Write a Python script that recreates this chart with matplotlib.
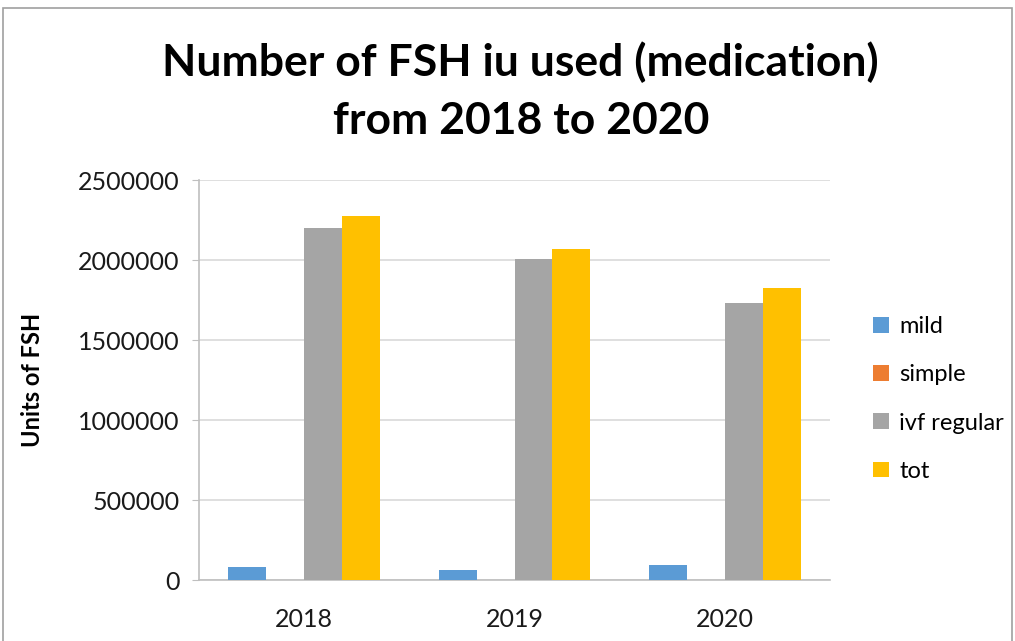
import matplotlib
matplotlib.use("Agg")
import matplotlib.pyplot as plt
from matplotlib.patches import Rectangle
import numpy as np

years = ["2018", "2019", "2020"]
series_names = ["mild", "simple", "ivf regular", "tot"]
mild = [80000, 61000, 94000]
simple = [0, 0, 0]
ivf_regular = [2198000, 2005000, 1729000]
tot = [2278000, 2066000, 1823000]
yticks = [0, 500000, 1000000, 1500000, 2000000, 2500000]
colors = ["#5B9BD5", "#ED7D31", "#A5A5A5", "#FFC000"]

plt.rcParams['font.family'] = ['Lato', 'DejaVu Sans']

fig = plt.figure(figsize=(10.15, 6.41), dpi=100)
ax = fig.add_axes([199/1015, 1-580/641, (830-199)/1015, 400/641])

x = np.arange(len(years))
w = 0.18
data = [mild, simple, ivf_regular, tot]
for i, (name, vals, c) in enumerate(zip(series_names, data, colors)):
    ax.bar(x + (i - 1.5) * w, vals, width=w, color=c, label=name, zorder=3)

ax.set_xlim(-0.5, 2.5)
ax.set_ylim(0, 2500000)
ax.set_yticks(yticks)
ax.set_yticklabels([str(v) for v in yticks], fontsize=18, color="#1a1a1a")
ax.set_xticks(x)
ax.set_xticklabels(years, fontsize=18, color="#1a1a1a")
ax.yaxis.grid(True, color="#D9D9D9", linewidth=1.2, zorder=0)
for s in ["top", "right"]:
    ax.spines[s].set_visible(False)
ax.spines["left"].set_color("#BFBFBF")
ax.spines["bottom"].set_color("#BFBFBF")
ax.spines["left"].set_linewidth(1.2)
ax.spines["bottom"].set_linewidth(1.2)
ax.tick_params(axis="y", length=5, color="#BFBFBF", pad=9)
ax.tick_params(axis="x", length=0, pad=20)

ax.set_ylabel("Units of FSH", fontsize=17, fontweight="bold")
ax.yaxis.set_label_coords(-0.245, 0.5)

fig.text(0.513, 1-62/641, "Number of FSH iu used (medication)", ha="center", va="center",
         fontsize=32, fontweight="bold")
fig.text(0.513, 1-121/641, "from 2018 to 2020", ha="center", va="center",
         fontsize=32, fontweight="bold")

leg = fig.legend(loc="upper left", bbox_to_anchor=(852/1015, 1-295/641), frameon=False,
                 fontsize=17, handlelength=0.65, handleheight=0.65, handletextpad=0.45,
                 labelspacing=1.15)

fig.patches.append(Rectangle((3/1015, -0.1), 1009/1015, 1.1 - 8/641, transform=fig.transFigure,
                             fill=False, edgecolor="#A0A0A0", linewidth=1.2))

fig.savefig("out.png", dpi=100)
